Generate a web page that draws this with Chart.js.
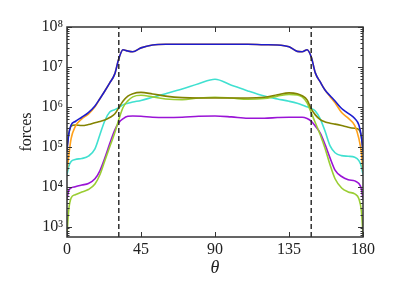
<!DOCTYPE html>
<html>
<head>
<meta charset="utf-8">
<script src="https://cdn.jsdelivr.net/npm/chart.js@4"></script>
<style>
  html, body { margin: 0; padding: 0; background: #fff; }
  #wrap { width: 397px; height: 298px; }
</style>
</head>
<body>
<div id="wrap"><canvas id="forces-chart"></canvas></div>
<script>
// angle samples (degrees)
const theta = [0, 1, 2.5, 5, 9, 13, 17, 20, 23, 26, 29, 31.5, 34, 37, 40, 45, 52, 60, 70, 80, 90,
  100, 110, 120, 128, 135, 140, 143, 146, 148.5, 151, 154, 157, 160, 163, 167, 171, 175, 177.5, 179, 180];

const forceBlue = [7.9e4, 2.0e5, 3.5e5, 4.3e5, 5.5e5, 7.2e5, 1.05e6, 1.6e6, 2.5e6, 4.0e6, 6.6e6, 1.6e7, 2.7e7, 2.5e7, 2.4e7, 3.0e7, 3.55e7, 3.7e7, 3.7e7, 3.7e7, 3.7e7,
  3.7e7, 3.7e7, 3.6e7, 3.55e7, 3.2e7, 2.45e7, 2.4e7, 2.7e7, 1.8e7, 7.1e6, 4.2e6, 2.6e6, 1.9e6, 1.4e6, 9.1e5, 6.9e5, 5.1e5, 3.5e5, 1.8e5, 7.9e4];
const forceOrange = [2.5e4, 5.6e4, 1.6e5, 3.2e5, 5.0e5, 6.6e5, 1.0e6, 1.6e6, 2.5e6, 4.0e6, 6.6e6, 1.6e7, 2.7e7, 2.5e7, 2.4e7, 3.0e7, 3.55e7, 3.7e7, 3.7e7, 3.7e7, 3.7e7,
  3.7e7, 3.7e7, 3.6e7, 3.55e7, 3.2e7, 2.45e7, 2.4e7, 2.7e7, 1.8e7, 7.1e6, 4.2e6, 2.6e6, 1.8e6, 1.26e6, 7.2e5, 5.2e5, 3.4e5, 1.6e5, 7.1e4, 2.5e4];
const forceOlive = [1.0e5, 2.0e5, 3.3e5, 3.5e5, 3.4e5, 3.6e5, 4.0e5, 4.3e5, 4.7e5, 5.4e5, 6.6e5, 9.5e5, 1.38e6, 1.86e6, 2.14e6, 2.3e6, 2.1e6, 1.86e6, 1.7e6, 1.66e6, 1.66e6,
  1.66e6, 1.66e6, 1.74e6, 2.0e6, 2.24e6, 2.14e6, 1.9e6, 1.5e6, 8.9e5, 6.3e5, 4.8e5, 4.2e5, 3.9e5, 3.7e5, 3.4e5, 3.1e5, 2.9e5, 2.7e5, 1.8e5, 7.9e4];
const forceGreen = [630, 2500, 5200, 6300, 7400, 8500, 1.17e4, 2.0e4, 4.5e4, 1.0e5, 2.2e5, 4.8e5, 9.5e5, 1.41e6, 1.78e6, 1.95e6, 1.78e6, 1.58e6, 1.51e6, 1.66e6, 1.74e6,
  1.66e6, 1.55e6, 1.62e6, 1.86e6, 2.04e6, 2.0e6, 1.78e6, 1.26e6, 7.1e5, 4.0e5, 2.0e5, 8.9e4, 3.5e4, 1.58e4, 9300, 7400, 6600, 5000, 2500, 630];
const forceTurquoise = [2.0e4, 3.2e4, 4.3e4, 4.8e4, 5.1e4, 5.8e4, 8.9e4, 2.0e5, 4.5e5, 7.4e5, 8.5e5, 9.5e5, 1.12e6, 1.23e6, 1.32e6, 1.45e6, 1.74e6, 2.14e6, 2.8e6, 3.8e6, 4.9e6,
  3.5e6, 2.5e6, 1.86e6, 1.58e6, 1.38e6, 1.23e6, 1.12e6, 1.0e6, 9.1e5, 7.9e5, 5.0e5, 2.4e5, 1.05e5, 7.1e4, 6.0e4, 5.8e4, 5.5e4, 4.5e4, 3.2e4, 2.0e4];
const forcePurple = [5000, 7900, 9300, 1.0e4, 1.1e4, 1.2e4, 1.58e4, 2.5e4, 5.2e4, 1.2e5, 2.6e5, 4.0e5, 5.0e5, 5.8e5, 5.9e5, 5.8e5, 5.5e5, 5.4e5, 5.5e5, 5.8e5, 5.9e5,
  5.6e5, 5.2e5, 5.2e5, 5.4e5, 5.5e5, 5.5e5, 5.5e5, 5.1e5, 4.4e5, 3.3e5, 2.2e5, 1.12e5, 5.2e4, 2.6e4, 1.8e4, 1.5e4, 1.4e4, 1.2e4, 8900, 5000];

// dashed markers
const markerAngles = [31.5, 148.5];
const xTicks = [0, 45, 90, 135, 180];
const yMin = 550;
const yMax = 1e8;

const superDigits = { '0': '⁰', '1': '¹', '2': '²', '3': '³', '4': '⁴', '5': '⁵', '6': '⁶', '7': '⁷', '8': '⁸', '9': '⁹' };
const serif = "'Liberation Serif', 'DejaVu Serif', serif";

function points(values) {
    return theta.map((t, i) => ({ x: t, y: values[i] }));
}
function curve(values, color, order) {
    return {
        data: points(values),
        borderColor: color,
        borderWidth: 1.6,
        pointRadius: 0,
        cubicInterpolationMode: 'monotone',
        fill: false,
        order: order
    };
}

const series = [
    curve(forceBlue, '#1c1ccf', 1),
    curve(forceOrange, '#ffa11a', 2),
    curve(forceOlive, '#838300', 3),
    curve(forceGreen, '#9acd32', 4),
    curve(forceTurquoise, '#40e0d0', 5),
    curve(forcePurple, '#9a14d6', 6)
];
markerAngles.forEach(a => {
    series.push({
        data: [{ x: a, y: yMin }, { x: a, y: yMax }],
        borderColor: '#222',
        borderWidth: 1.4,
        borderDash: [5, 3],
        pointRadius: 0,
        order: 0
    });
});

// matplotlib-like frame with inward ticks
const frameTicks = {
    id: 'frameTicks',
    afterDraw(chart) {
        const { ctx, chartArea: a } = chart;
        const xs = chart.scales.x, ys = chart.scales.y;
        ctx.save();
        ctx.strokeStyle = '#333';
        ctx.lineWidth = 1;
        ctx.beginPath();
        xTicks.forEach(v => {
            const px = Math.round(xs.getPixelForValue(v)) + 0.5;
            ctx.moveTo(px, a.bottom); ctx.lineTo(px, a.bottom - 5);
            ctx.moveTo(px, a.top); ctx.lineTo(px, a.top + 5);
        });
        for (let e = 2; e <= 8; e++) {
            for (let m = 1; m <= 9; m++) {
                const v = m * Math.pow(10, e);
                if (v < yMin || v > yMax) continue;
                const py = Math.round(ys.getPixelForValue(v)) + 0.5;
                const len = m === 1 ? 5 : 2.5;
                ctx.moveTo(a.left, py); ctx.lineTo(a.left + len, py);
                ctx.moveTo(a.right, py); ctx.lineTo(a.right - len, py);
            }
        }
        ctx.stroke();
        ctx.lineWidth = 1.5;
        ctx.strokeRect(a.left, a.top, a.right - a.left, a.bottom - a.top);
        ctx.restore();
    }
};

new Chart(document.getElementById('forces-chart'), {
    type: 'line',
    data: { datasets: series },
    options: {
        responsive: true,
        maintainAspectRatio: false,
        animation: false,
        layout: { padding: { top: 27, right: 34, left: 0, bottom: 0 } },
        plugins: { legend: { display: false }, tooltip: { enabled: false } },
        scales: {
            x: {
                type: 'linear',
                min: 0,
                max: 180,
                afterFit: s => { s.height = 61; },
                afterBuildTicks: s => { s.ticks = xTicks.map(v => ({ value: v })); },
                grid: { display: false, drawTicks: false },
                border: { display: false },
                ticks: { color: '#222', padding: 3, font: { family: serif, size: 16 } },
                title: {
                    display: true,
                    text: 'θ',
                    color: '#222',
                    padding: { top: 0, bottom: 19 },
                    font: { family: serif, size: 18, style: 'italic' }
                }
            },
            y: {
                type: 'logarithmic',
                min: yMin,
                max: yMax,
                afterFit: s => { s.width = 67; },
                grid: { display: false, drawTicks: false },
                border: { display: false },
                ticks: {
                    autoSkip: false,
                    padding: 4,
                    color: '#222',
                    font: { family: serif, size: 16 },
                    callback: v => {
                        const e = Math.log10(v);
                        if (Math.abs(e - Math.round(e)) > 1e-9) return '';
                        return '10' + String(Math.round(e)).split('').map(d => superDigits[d]).join('');
                    }
                },
                title: {
                    display: true,
                    text: 'forces',
                    color: '#222',
                    padding: { top: 17, bottom: 0 },
                    font: { family: serif, size: 16 }
                }
            }
        }
    },
    plugins: [frameTicks]
});
</script>
</body>
</html>
